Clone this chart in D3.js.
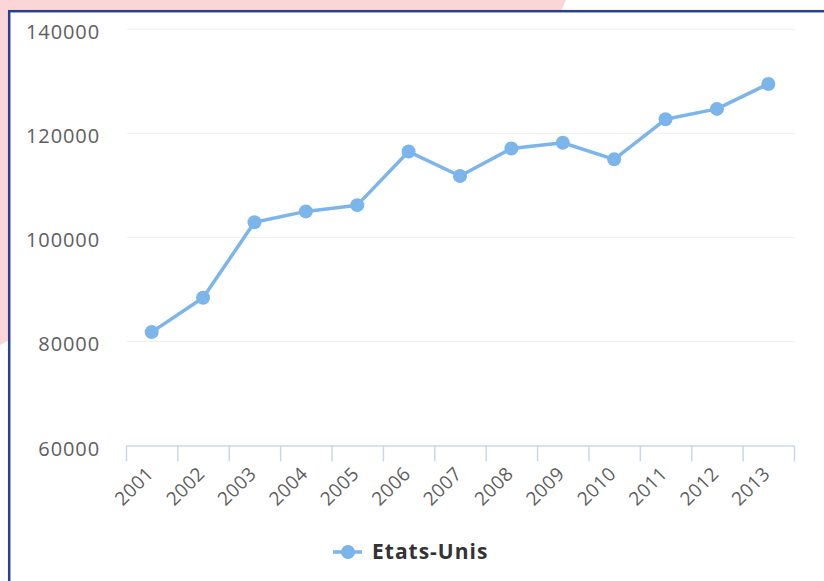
<!DOCTYPE html>
<html>
<head>
<meta charset="utf-8">
<script src="https://cdn.jsdelivr.net/npm/d3@7"></script>
<style>
  body { margin: 0; background: #fff; }
  svg { display: block; }
</style>
</head>
<body>
<div class="chart"></div>
<script>
// Data
const years = ["2001", "2002", "2003", "2004", "2005", "2006", "2007",
               "2008", "2009", "2010", "2011", "2012", "2013"]
const values = [81800, 88400, 102900, 105000, 106200, 116500, 111800,
                117100, 118200, 115000, 122700, 124700, 129500]
const yTicks = [60000, 80000, 100000, 120000, 140000]
const seriesName = "Etats-Unis"

const svgWidth = 824,
      svgHeight = 581
const plot = { left: 126, right: 794, top: 29.3, bottom: 445.5 }
const lineColor = '#7cb5ec'
const font = '"Open Sans", sans-serif'

const svg = d3.select(".chart")
  .append('svg')
  .attr('width', svgWidth)
  .attr('height', svgHeight)

// Pink decoration behind the frame
svg.append('polygon')
   .attr('points', '0,0 566,0 540,60 0,345')
   .attr('fill', '#fcd5d8')

// Frame
svg.append('rect')
   .attr('x', 9.2)
   .attr('y', 11.2)
   .attr('width', 900)
   .attr('height', 700)
   .attr('fill', '#fff')
   .attr('stroke', '#2b3f91')
   .attr('stroke-width', 2.5)

// Scales
const xScale = d3.scaleBand()
                 .domain(years)
                 .range([plot.left, plot.right])
const xEdge = d3.scaleLinear()
                .domain([0, years.length])
                .range([plot.left, plot.right])
const yScale = d3.scaleLinear()
                 .domain([60000, 140000])
                 .range([plot.bottom, plot.top])

// Grid lines
svg.append('g')
   .selectAll('line')
   .data(yTicks.slice(1))
   .enter()
   .append('line')
   .attr('x1', plot.left + 1)
   .attr('x2', plot.right + 1)
   .attr('y1', d => yScale(d))
   .attr('y2', d => yScale(d))
   .attr('stroke', '#efefef')
   .attr('stroke-width', 1)

// Y labels
svg.append('g')
   .selectAll('text')
   .data(yTicks)
   .enter()
   .append('text')
   .attr('x', 100)
   .attr('y', d => yScale(d) + 3)
   .attr('dy', '0.35em')
   .attr('text-anchor', 'end')
   .style('font-family', font)
   .style('font-size', '20px')
   .style('letter-spacing', '0.9px')
   .style('fill', '#5e5e5e')
   .text(d => d)

// X axis line and boundary ticks
const xAxis = d3.axisBottom(xEdge)
                .tickValues(d3.range(years.length + 1))
                .tickSize(16)
                .tickSizeOuter(0)
                .tickFormat('')
const gx = svg.append('g')
   .attr('transform', `translate(0, ${plot.bottom})`)
   .call(xAxis)
gx.select('.domain').attr('stroke', '#ccd6eb').attr('stroke-width', 1.5)
gx.selectAll('.tick line').attr('stroke', '#ccd6eb').attr('stroke-width', 1.5)

// X labels, rotated
svg.append('g')
   .selectAll('text')
   .data(years)
   .enter()
   .append('text')
   .attr('text-anchor', 'end')
   .attr('transform', d => `translate(${xScale(d) + xScale.bandwidth() / 2 + 3}, 475) rotate(-45)`)
   .style('font-family', font)
   .style('font-size', '19px')
   .style('letter-spacing', '0.4px')
   .style('fill', '#5e5e5e')
   .text(d => d)

// Line
const points = years.map((y, i) => [xScale(y) + xScale.bandwidth() / 2, yScale(values[i])])
svg.append('path')
   .attr('d', d3.line()(points))
   .attr('fill', 'none')
   .attr('stroke', lineColor)
   .attr('stroke-width', 3.5)
   .attr('stroke-linejoin', 'round')

svg.append('g')
   .selectAll('circle')
   .data(points)
   .enter()
   .append('circle')
   .attr('cx', d => d[0])
   .attr('cy', d => d[1])
   .attr('r', 7)
   .attr('fill', lineColor)

// Legend
const legend = svg.append('g').attr('transform', 'translate(333, 552)')
legend.append('line')
      .attr('x1', 0)
      .attr('x2', 29)
      .attr('stroke', lineColor)
      .attr('stroke-width', 3.5)
legend.append('circle')
      .attr('cx', 15)
      .attr('r', 7)
      .attr('fill', lineColor)
legend.append('text')
      .attr('x', 39)
      .attr('y', 7)
      .style('font-family', font)
      .style('font-size', '21px')
      .style('font-weight', 'bold')
      .style('letter-spacing', '1px')
      .style('fill', '#333')
      .text(seriesName)
</script>
</body>
</html>
